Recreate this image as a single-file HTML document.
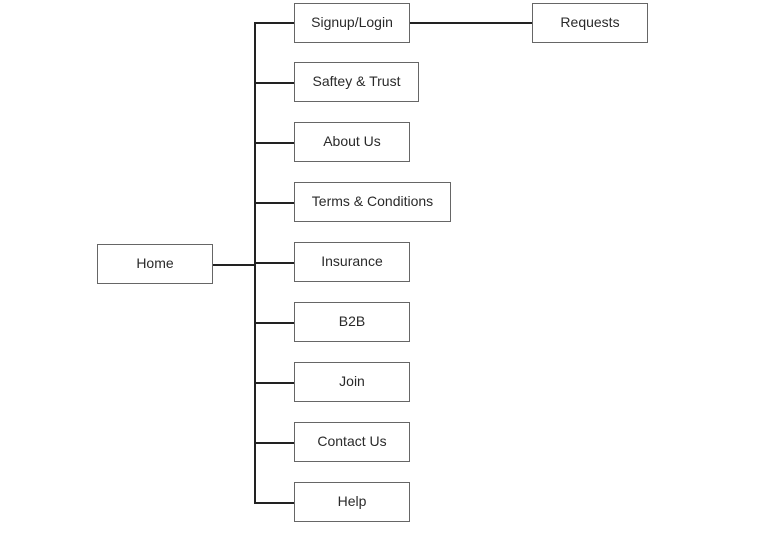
<!DOCTYPE html>
<html><head><style>
body{margin:0;width:766px;height:544px;background:#fff;position:relative;overflow:hidden;font-family:"Liberation Sans",sans-serif;}
.b{position:absolute;box-sizing:border-box;border:1.5px solid #666;height:40px;display:flex;align-items:center;justify-content:center;font-size:14px;color:#2a2a2a;padding-bottom:2px;}
.l{position:absolute;background:#222;}
</style></head><body>
<div class="l" style="left:254px;top:23px;width:1.5px;height:480px"></div>
<div class="l" style="left:212px;top:264px;width:43px;height:1.5px"></div>
<div class="l" style="left:409px;top:22px;width:123px;height:1.5px"></div>
<div class="l" style="left:254px;top:22px;width:40px;height:1.5px"></div>
<div class="l" style="left:254px;top:82px;width:40px;height:1.5px"></div>
<div class="l" style="left:254px;top:142px;width:40px;height:1.5px"></div>
<div class="l" style="left:254px;top:202px;width:40px;height:1.5px"></div>
<div class="l" style="left:254px;top:262px;width:40px;height:1.5px"></div>
<div class="l" style="left:254px;top:322px;width:40px;height:1.5px"></div>
<div class="l" style="left:254px;top:382px;width:40px;height:1.5px"></div>
<div class="l" style="left:254px;top:442px;width:40px;height:1.5px"></div>
<div class="l" style="left:254px;top:502px;width:40px;height:1.5px"></div>
<div class="b" style="left:97px;top:244px;width:116px">Home</div>
<div class="b" style="left:532px;top:3px;width:116px">Requests</div>
<div class="b" style="left:294px;top:3px;width:116px">Signup/Login</div>
<div class="b" style="left:294px;top:62px;width:125px">Saftey &amp; Trust</div>
<div class="b" style="left:294px;top:122px;width:116px">About Us</div>
<div class="b" style="left:294px;top:182px;width:157px">Terms &amp; Conditions</div>
<div class="b" style="left:294px;top:242px;width:116px">Insurance</div>
<div class="b" style="left:294px;top:302px;width:116px">B2B</div>
<div class="b" style="left:294px;top:362px;width:116px">Join</div>
<div class="b" style="left:294px;top:422px;width:116px">Contact Us</div>
<div class="b" style="left:294px;top:482px;width:116px">Help</div>
</body></html>
